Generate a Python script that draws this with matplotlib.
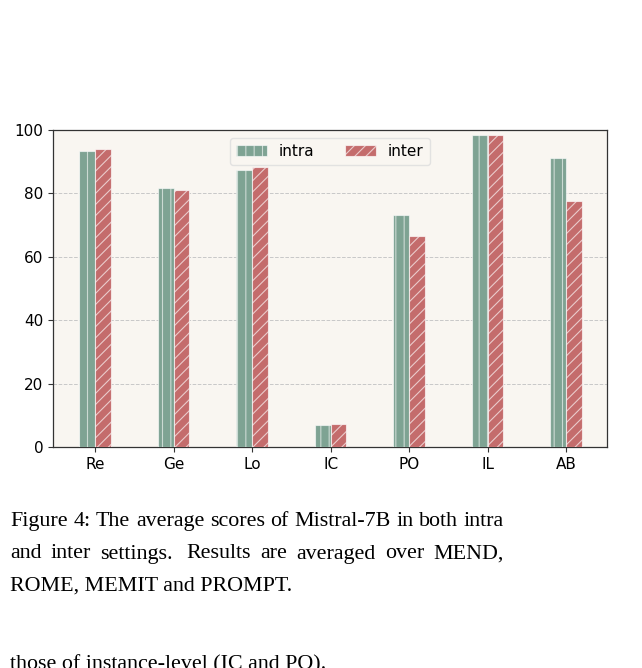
import numpy as np
import matplotlib
matplotlib.use("Agg")
import matplotlib.pyplot as plt

categories = ["Re", "Ge", "Lo", "IC", "PO", "IL", "AB"]
intra = [93.4, 81.7, 87.5, 6.9, 73.3, 98.4, 91.1]
inter = [94.0, 81.1, 88.3, 7.3, 66.7, 98.4, 77.5]

caption = [
    "Figure 4: The average scores of Mistral-7B in both intra",
    "and inter settings.  Results are averaged over MEND,",
    "ROME, MEMIT and PROMPT.",
]
next_line = "those of instance-level (IC and PO)."

plt.rcParams["hatch.linewidth"] = 0.8

fig = plt.figure(figsize=(6.42, 6.68), dpi=100)
ax = fig.add_axes([53 / 642, 1 - 447 / 668, 554 / 642, 317 / 668])
ax.set_facecolor("#f9f6f1")

x = np.arange(len(categories))
w = 0.2
ax.bar(x - w / 2, intra, w, color="#7ea393", edgecolor=(1, 1, 1, 0.6),
       linewidth=0.8, hatch="||", label="intra", zorder=3)
ax.bar(x + w / 2, inter, w, color="#c46c6c", edgecolor=(1, 1, 1, 0.65),
       linewidth=0.8, hatch="///", label="inter", zorder=3)

ax.set_xlim(-0.535, 6.52)
ax.set_ylim(0, 100)
ax.set_xticks(x)
ax.set_xticklabels(categories)
ax.set_yticks([0, 20, 40, 60, 80, 100])
ax.tick_params(labelsize=11, color="#333333", length=3.5)
ax.yaxis.grid(True, linestyle="--", color="#c8c8c8", linewidth=0.7)
ax.set_axisbelow(True)
for s in ax.spines.values():
    s.set_color("#333333")
    s.set_linewidth(0.9)

ax.legend(loc="upper center", ncol=2, fontsize=11, frameon=True,
          facecolor="#f9f6f1", edgecolor="#dddddd", bbox_to_anchor=(0.5, 1.0))

serif = ["Liberation Serif", "DejaVu Serif"]
fs = 15.8
left_px, right_px = 10, 504
renderer = fig.canvas.get_renderer()


def justified(line, y_px):
    # place words one by one so the line fills the column, like LaTeX
    items = []
    for wd in line.split():
        t = fig.text(0, 0, wd, family=serif, fontsize=fs, va="baseline", ha="left")
        items.append((t, t.get_window_extent(renderer).width))
    gaps = [1.4 if items[i][0].get_text().endswith(".") else 1.0
            for i in range(len(items) - 1)]
    spare = (right_px - left_px) - sum(wd for _, wd in items)
    unit = spare / sum(gaps)
    xpos = left_px
    for i, (t, wd) in enumerate(items):
        t.set_position((xpos / 642, 1 - y_px / 668))
        if i < len(gaps):
            xpos += wd + gaps[i] * unit


y0 = 526
for i, line in enumerate(caption):
    y = y0 + i * 32.5
    if i < len(caption) - 1:
        justified(line, y)
    else:
        fig.text(left_px / 642, 1 - y / 668, line, family=serif,
                 fontsize=fs, va="baseline", ha="left")
fig.text(left_px / 642, 1 - 669 / 668, next_line, family=serif,
         fontsize=fs, va="baseline", ha="left")

fig.savefig("out.png", dpi=100)
